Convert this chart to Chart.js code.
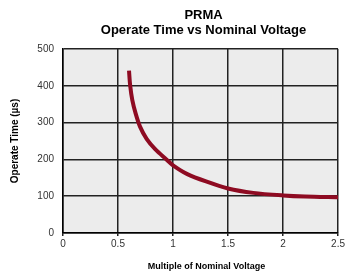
<!DOCTYPE html>
<html>
<head>
<meta charset="utf-8">
<script src="https://cdn.jsdelivr.net/npm/chart.js@4/dist/chart.umd.min.js"></script>
<style>
  html, body { margin: 0; padding: 0; background: #fff; }
  #wrap { width: 347px; height: 277px; }
</style>
</head>
<body>
<div id="wrap"><canvas id="chart" width="347" height="277"></canvas></div>
<script>
// data
const voltage = [0.6, 0.61, 0.63, 0.66, 0.70, 0.76, 0.84, 0.94, 1.0, 1.13, 1.3, 1.5, 1.73, 2.0, 2.2, 2.5];
const operateTime = [441, 402, 361, 325, 289, 256, 227, 200, 184, 160, 140, 121, 109, 102, 99, 97];
const xTicks = [0, 0.5, 1, 1.5, 2, 2.5];
const yTicks = [0, 100, 200, 300, 400, 500];

const titleLines = ["PRMA", "Operate Time vs Nominal Voltage"];
const xTitle = "Multiple of Nominal Voltage";
const yTitle = "Operate Time (\u00b5s)";

const FONT = "'Liberation Sans', Arial, sans-serif";

// plot background + titles
const decor = {
  id: "decor",
  beforeDraw(chart) {
    const { ctx, chartArea: a } = chart;
    ctx.save();
    ctx.fillStyle = "#ececec";
    ctx.fillRect(a.left, a.top, a.right - a.left, a.bottom - a.top);
    ctx.restore();
  },
  afterDraw(chart) {
    const { ctx, chartArea: a } = chart;
    const cx = (a.left + a.right) / 2;
    ctx.save();
    ctx.fillStyle = "#000";
    ctx.textAlign = "center";
    ctx.textBaseline = "middle";
    ctx.font = "bold 13px " + FONT;
    ctx.fillText(titleLines[0], cx + 3, 15);
    ctx.fillText(titleLines[1], cx + 3, 30);

    ctx.font = "bold 9px " + FONT;
    ctx.fillText(xTitle, cx + 6, 267);

    ctx.translate(15, 141);
    ctx.rotate(-Math.PI / 2);
    ctx.font = "bold 10px " + FONT;
    ctx.fillText(yTitle, 0, 0);
    ctx.restore();
  },
};

new Chart(document.getElementById("chart"), {
  type: "scatter",
  data: {
    datasets: [
      {
        data: voltage.map((v, i) => ({ x: v, y: operateTime[i] })),
        showLine: true,
        borderColor: "#8e0b22",
        borderWidth: 4,
        pointRadius: 0,
        tension: 0.3,
      },
    ],
  },
  options: {
    responsive: false,
    animation: false,
    layout: { padding: { top: 49, right: 5, left: 0, bottom: 0 } },
    plugins: { legend: { display: false }, tooltip: { enabled: false } },
    scales: {
      x: {
        type: "linear",
        min: 0,
        max: 2.5,
        afterBuildTicks: (s) => { s.ticks = xTicks.map((v) => ({ value: v })); },
        afterFit: (s) => { s.height = 44; },
        grid: { color: "#222", lineWidth: 1.5, tickLength: 3 },
        border: { color: "#000", width: 1.5 },
        ticks: {
          color: "#333",
          font: { family: FONT, size: 10 },
          padding: 2,
          maxRotation: 0,
          callback: (v) => String(v),
        },
      },
      y: {
        min: 0,
        max: 500,
        afterBuildTicks: (s) => { s.ticks = yTicks.map((v) => ({ value: v })); },
        afterFit: (s) => { s.width = 63; },
        grid: { color: "#222", lineWidth: 1.5, drawTicks: false },
        border: { color: "#000", width: 1.5 },
        ticks: {
          color: "#333",
          font: { family: FONT, size: 10 },
          padding: 9,
        },
      },
    },
  },
  plugins: [decor],
});
</script>
</body>
</html>
